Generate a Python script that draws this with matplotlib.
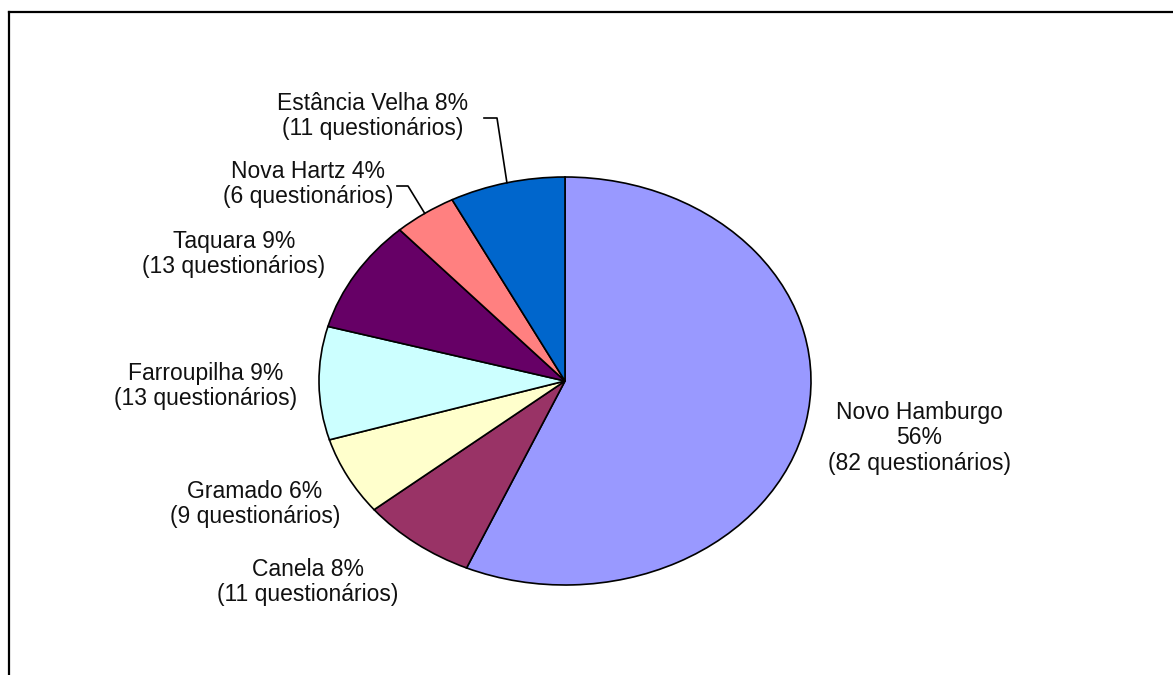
import numpy as np
import matplotlib.pyplot as plt
from matplotlib.lines import Line2D

# questionários por cidade
cidades = ['Novo Hamburgo', 'Canela', 'Gramado', 'Farroupilha',
           'Taquara', 'Nova Hartz', 'Estância Velha']
questionarios = [82, 11, 9, 13, 13, 6, 11]
percentuais = [56, 8, 6, 9, 9, 4, 8]
cores = ['#9999FF', '#993366', '#FFFFCC', '#CCFFFF',
         '#660066', '#FF8080', '#0066CC']

plt.rcParams['font.family'] = ['Liberation Sans', 'DejaVu Sans']

W, H = 1173, 675
fig = plt.figure(figsize=(W / 100, H / 100), dpi=100)

# moldura (só aparecem as bordas de cima e da esquerda)
fig.add_artist(Line2D([9 / W, 9 / W], [0, 1 - 12 / H], color='black', lw=1.6))
fig.add_artist(Line2D([9 / W, 1], [1 - 12 / H, 1 - 12 / H], color='black', lw=1.6))

# caixa da pizza em pixels (elíptica)
cx, cy, rx, ry = 565, 381, 246, 204
ax = fig.add_axes([(cx - rx) / W, 1 - (cy + ry) / H, 2 * rx / W, 2 * ry / H])
wedges, _ = ax.pie(questionarios, colors=cores, startangle=90, counterclock=False,
                   wedgeprops=dict(edgecolor='black', linewidth=1.2))
ax.set_xlim(-1, 1)
ax.set_ylim(-1, 1)
ax.set_aspect('auto')
ax.axis('off')


def px(x, y):
    return (x - cx) / rx, (cy - y) / ry


pos_rotulos = {
    'Novo Hamburgo': (919, 438),
    'Canela': (308, 582),
    'Gramado': (255, 504),
    'Farroupilha': (206, 386),
    'Taquara': (234, 254),
    'Nova Hartz': (308, 184),
    'Estância Velha': (373, 116),
}

for nome, v, pct in zip(cidades, questionarios, percentuais):
    if nome == 'Novo Hamburgo':
        txt = f'{nome}\n{pct}%\n({v} questionários)'
    else:
        txt = f'{nome} {pct}%\n({v} questionários)'
    x, y = px(*pos_rotulos[nome])
    ax.text(x, y, txt, ha='center', va='center', fontsize=16.5,
            linespacing=1.12, color='#111111', clip_on=False)

# linhas de chamada
cotovelos = {'Estância Velha': [(484, 118), (497, 118)],
             'Nova Hartz': [(397, 186), (408, 186)]}
for nome, pts in cotovelos.items():
    w = wedges[cidades.index(nome)]
    ang = np.deg2rad((w.theta1 + w.theta2) / 2)
    xs = [px(*p)[0] for p in pts] + [np.cos(ang)]
    ys = [px(*p)[1] for p in pts] + [np.sin(ang)]
    ax.plot(xs, ys, color='black', lw=1.2, clip_on=False)

fig.savefig('out.png', dpi=100)
